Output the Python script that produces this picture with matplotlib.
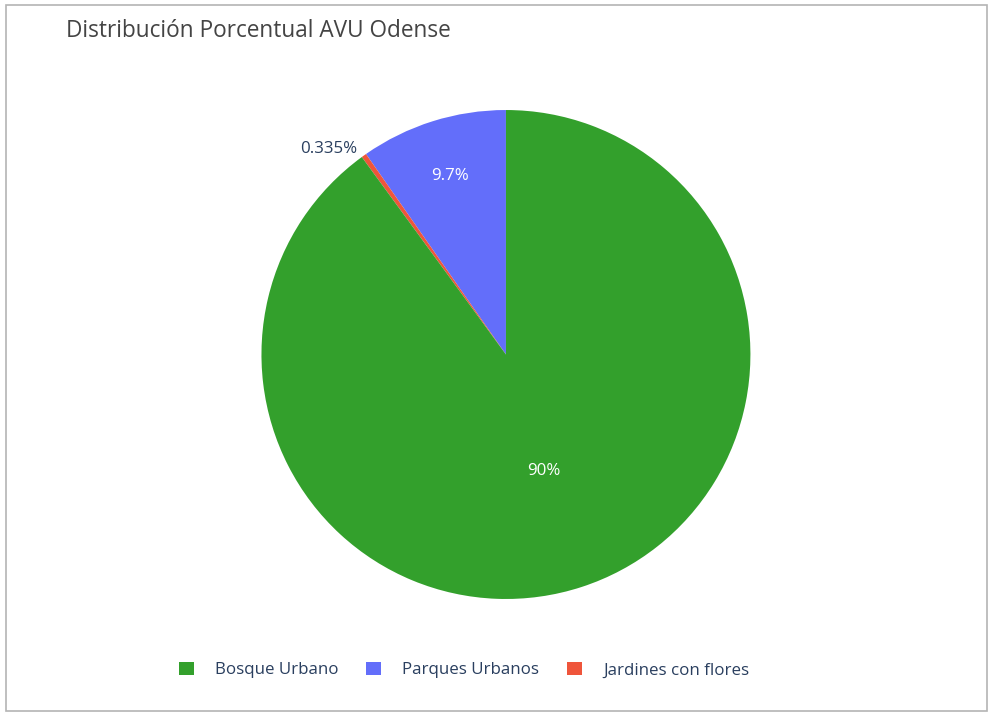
#!/usr/bin/env python
"""Distribucion porcentual AVU Odense - pie chart."""
import matplotlib
matplotlib.use('Agg')
import matplotlib.pyplot as plt
from matplotlib.patches import Patch, Rectangle
import numpy as np

plt.rcParams['font.family'] = ['Open Sans', 'DejaVu Sans']

# Data (legend order)
labels = ['Bosque Urbano', 'Parques Urbanos', 'Jardines con flores']
values = [89.965, 9.7, 0.335]
colors = ['#33a02c', '#636efa', '#ef553b']
# order slices are drawn, counterclockwise from 12 o'clock
draw_order = [1, 2, 0]

TEXT = '#2a3f5f'

fig = plt.figure(figsize=(9.9, 7.13), dpi=100)
fig.patch.set_facecolor('white')

# outer border
fig.add_artist(Rectangle((6 / 990, 1 - 711 / 713), 981 / 990, 706 / 713,
                         transform=fig.transFigure, fill=False,
                         edgecolor='#b4b4b4', linewidth=1.2))

ax = fig.add_axes([0.2641, 0.1599, 0.4939, 0.6858])
vals = [values[i] for i in draw_order]
cols = [colors[i] for i in draw_order]
wedges, _ = ax.pie(vals, colors=cols, startangle=90, counterclock=True,
                   radius=1, wedgeprops=dict(linewidth=0))
ax.set_xlim(-1, 1)
ax.set_ylim(-1, 1)
ax.set_aspect('equal')
ax.axis('off')

total = sum(values)
for w, v in zip(wedges, vals):
    pct = v / total * 100
    txt = f'{pct:.3g}%'
    mid = np.deg2rad((w.theta1 + w.theta2) / 2)
    if pct < 2:
        # outside label
        ax.annotate(txt, xy=(np.cos(mid), np.sin(mid)), xytext=(-5, 5),
                    textcoords='offset points', ha='right', va='center',
                    fontsize=12.2, color=TEXT)
    else:
        r = 0.765 if pct < 50 else 0.5
        ax.text(r * np.cos(mid), r * np.sin(mid), txt, ha='center',
                va='center', fontsize=12.2, color='white')

fig.text(66 / 990, 1 - 31 / 713, 'Distribución Porcentual AVU Odense',
         fontsize=16.3, color='#444444', ha='left', va='center')

handles = [Patch(facecolor=c, edgecolor='none') for c in colors]
fig.legend(handles, labels, loc='center', bbox_to_anchor=(0.4687, 0.0603),
           ncol=3, frameon=False, fontsize=12.2, labelcolor=TEXT,
           handlelength=0.88, handleheight=0.88, handletextpad=1.24,
           columnspacing=1.65)

fig.savefig('out.png', dpi=100)
